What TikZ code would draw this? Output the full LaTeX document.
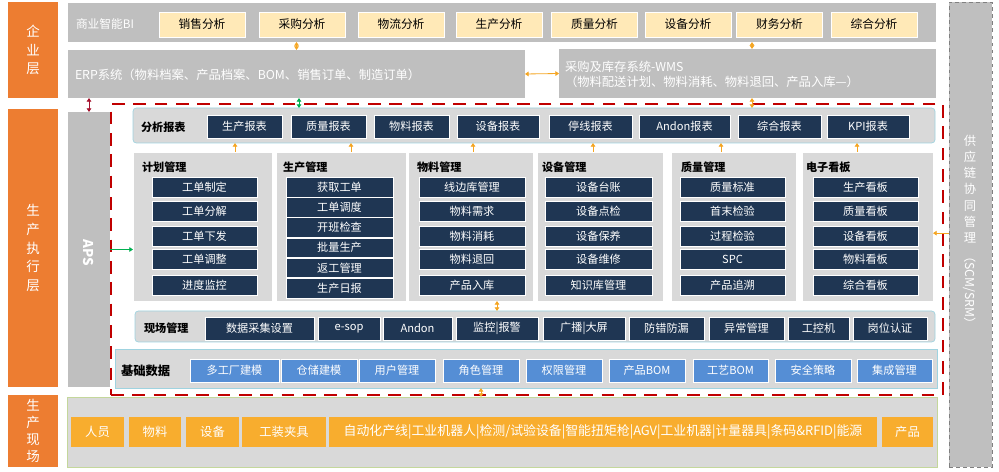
\documentclass[tikz,border=0pt]{standalone}
\usepackage{fontspec}
\setmainfont{Noto Sans CJK SC}
\usetikzlibrary{arrows.meta}
\definecolor{layor}{HTML}{ED7D31}
\definecolor{sysgray}{HTML}{BFBFBF}
\definecolor{pangray}{HTML}{D9D9D9}
\definecolor{navy}{HTML}{1F3653}
\definecolor{cream}{HTML}{FFE9B7}
\definecolor{basblue}{HTML}{558ED5}
\definecolor{fieldor}{HTML}{F8AD2E}
\definecolor{mesred}{HTML}{C00000}
\definecolor{edgeblue}{HTML}{9FD3E0}
\definecolor{edgegreen}{HTML}{C4D79B}
\definecolor{arrowor}{HTML}{F5A623}
\definecolor{arrowgr}{HTML}{00B050}
\definecolor{arrowrd}{HTML}{A5112C}
\begin{document}
\begin{tikzpicture}[x=0.3mm, y=-0.3mm,
	every node/.style={inner sep=0pt, outer sep=0pt},
	bw/.style={minimum width=#1*0.3mm},
	bh/.style={minimum height=#1*0.3mm},
	>={Triangle[length=1.1mm, width=1.4mm]},
	layer/.style={rectangle, fill=layor, text=white, align=center, font=\fontsize{11.5}{16}\selectfont},
	sys/.style={rectangle, fill=sysgray},
	pan/.style={rectangle, fill=pangray, draw=edgeblue, line width=0.6pt},
	grp/.style={rectangle, fill=pangray, draw=white, line width=0.8pt},
	ttl/.style={anchor=west, font=\fontsize{9.5}{11}\selectfont\bfseries},
	wtxt/.style={anchor=west, text=white, align=left, font=\fontsize{10.5}{12.5}\selectfont},
	bibox/.style={rectangle, fill=cream, draw=white, line width=0.8pt, bw=86, bh=25, font=\fontsize{10}{12}\selectfont},
	item/.style={rectangle, fill=navy, draw=white, line width=0.6pt, text=white, font=\fontsize{9.5}{11}\selectfont},
	repbox/.style={item, bh=23},
	modbox/.style={item, bh=20},
	sitebox/.style={item, bh=23},
	basis/.style={item, fill=basblue, bh=23},
	dev/.style={rectangle, fill=fieldor, text=white, bh=30, font=\fontsize{10.5}{12}\selectfont},
	oarr/.style={<->, draw=arrowor, line width=0.7pt},
	oup/.style={->, draw=arrowor, line width=0.7pt},
	garr/.style={<->, draw=arrowgr, line width=0.7pt},
	gone/.style={->, draw=arrowgr, line width=0.7pt},
	rarr/.style={<->, draw=arrowrd, line width=0.7pt}]
	\useasboundingbox[fill=white] (0,0) rectangle (999,472);
	% layers
	\node (ent) at (33,50) [layer, bw=50, bh=96] {企\\业\\层};
	\node (exe) at (33,248) [layer, bw=50, bh=278] {生\\产\\执\\行\\层};
	\node (shop) at (33,431) [layer, bw=50, bh=72, font=\fontsize{11.5}{14.7}\selectfont] {生\\产\\现\\场};
	% enterprise systems
	\node (bi) at (502,22.5) [sys, bw=868, bh=39] {};
	\node (bilbl) at (76,24) [wtxt, font=\fontsize{10}{12}\selectfont] {商业智能BI};
	\node (bi1) at (202,24.5) [bibox] {销售分析};
	\node (bi2) at (302,24.5) [bibox] {采购分析};
	\node (bi3) at (401,24.5) [bibox] {物流分析};
	\node (bi4) at (499,24.5) [bibox] {生产分析};
	\node (bi5) at (594.5,24.5) [bibox] {质量分析};
	\node (bi6) at (688,24.5) [bibox] {设备分析};
	\node (bi7) at (779.5,24.5) [bibox] {财务分析};
	\node (bi8) at (874,24.5) [bibox] {综合分析};
	\node (erp) at (296.5,74) [sys, bw=457, bh=48] {};
	\node (erptxt) at (75,75) [wtxt] {ERP系统（物料档案、产品档案、BOM、销售订单、制造订单）};
	\node (wms) at (747.5,73.5) [sys, bw=377, bh=49] {};
	\node (wmstxt) at (565,74.5) [wtxt] {采购及库存系统-WMS\\（物料配送计划、物料消耗、物料退回、产品入库---）};
	\node (aps) at (89,249.5) [sys, bw=42, bh=275] {};
	\node (apslbl) at (89,253) [rotate=-90, text=white, font=\fontsize{11.5}{13}\selectfont\bfseries] {APS};
	\node (scm) at (970.5,234.5) [sys, draw=gray, dashed, line width=0.4pt, bw=43, bh=465] {};
	\node (scmtxt) at (970,189) [text=white, align=center, font=\fontsize{10.5}{13.8}\selectfont] {供\\应\\链\\协\\同\\管\\理};
	\node (scmabbr) at (970,290) [rotate=-90, text=white, font=\fontsize{10.5}{12}\selectfont] {（SCM/SRM）};
	% MES frame
	\node (mes) at (527,249.5) [draw=mesred, line width=0.85mm, dash pattern=on 3.8mm off 2.6mm, bw=832, bh=291] {};
	% analysis reports
	\node (rep) at (534,125.5) [pan, rounded corners=1mm, bw=802, bh=35] {};
	\node (replbl) at (141,127) [ttl] {分析报表};
	\node (rep1) at (244.5,126.5) [repbox, bw=75] {生产报表};
	\node (rep2) at (328.5,126.5) [repbox, bw=75] {质量报表};
	\node (rep3) at (411.5,126.5) [repbox, bw=75] {物料报表};
	\node (rep4) at (498,126.5) [repbox, bw=82] {设备报表};
	\node (rep5) at (590.5,126.5) [repbox, bw=83] {停线报表};
	\node (rep6) at (684.5,126.5) [repbox, bw=91] {Andon报表};
	\node (rep7) at (779.5,126.5) [repbox, bw=83] {综合报表};
	\node (rep8) at (868,126.5) [repbox, bw=82] {KPI报表};
	% module groups
	\node (plan) at (202.5,226.5) [grp, bw=139, bh=149] {};
	\node (prod) at (341,226.5) [grp, bw=130, bh=149] {};
	\node (mat) at (470.5,226.5) [grp, bw=125, bh=149] {};
	\node (eqp) at (600,226.5) [grp, bw=126, bh=149] {};
	\node (qua) at (733.5,226.5) [grp, bw=125, bh=149] {};
	\node (board) at (867.5,226.5) [grp, bw=131, bh=149] {};
	\node (planlbl) at (142,167) [ttl] {计划管理};
	\node (prodlbl) at (283,167) [ttl] {生产管理};
	\node (matlbl) at (417,167) [ttl] {物料管理};
	\node (eqplbl) at (542,167) [ttl] {设备管理};
	\node (qualbl) at (681,167) [ttl] {质量管理};
	\node (boardlbl) at (806,167) [ttl] {电子看板};
	\node (plan1) at (204.5,187) [modbox, bw=105] {工单制定};
	\node (plan2) at (204.5,211.5) [modbox, bw=105] {工单分解};
	\node (plan3) at (204.5,236) [modbox, bw=105] {工单下发};
	\node (plan4) at (204.5,259.5) [modbox, bw=105] {工单调整};
	\node (plan5) at (204.5,285) [modbox, bw=105] {进度监控};
	\node (prod1) at (339.5,187.2) [modbox, bw=107, bh=19.6] {获取工单};
	\node (prod2) at (339.5,207.4) [modbox, bw=107, bh=19.6] {工单调度};
	\node (prod3) at (339.5,227.6) [modbox, bw=107, bh=19.6] {开班检查};
	\node (prod4) at (339.5,247.8) [modbox, bw=107, bh=19.6] {批量生产};
	\node (prod5) at (339.5,268) [modbox, bw=107, bh=19.6] {返工管理};
	\node (prod6) at (339.5,288.2) [modbox, bw=107, bh=19.6] {生产日报};
	\node (mat1) at (472,187) [modbox, bw=106] {线边库管理};
	\node (mat2) at (472,211.5) [modbox, bw=106] {物料需求};
	\node (mat3) at (472,236) [modbox, bw=106] {物料消耗};
	\node (mat4) at (472,259.5) [modbox, bw=106] {物料退回};
	\node (mat5) at (472,285) [modbox, bw=106] {产品入库};
	\node (eqp1) at (598.5,187) [modbox, bw=107] {设备台账};
	\node (eqp2) at (598.5,211.5) [modbox, bw=107] {设备点检};
	\node (eqp3) at (598.5,236) [modbox, bw=107] {设备保养};
	\node (eqp4) at (598.5,259.5) [modbox, bw=107] {设备维修};
	\node (eqp5) at (598.5,285) [modbox, bw=107] {知识库管理};
	\node (qua1) at (732.5,187) [modbox, bw=105] {质量标准};
	\node (qua2) at (732.5,211.5) [modbox, bw=105] {首末检验};
	\node (qua3) at (732.5,236) [modbox, bw=105] {过程检验};
	\node (qua4) at (732.5,259.5) [modbox, bw=105] {SPC};
	\node (qua5) at (732.5,285) [modbox, bw=105] {产品追溯};
	\node (board1) at (865.5,187) [modbox, bw=105] {生产看板};
	\node (board2) at (865.5,211.5) [modbox, bw=105] {质量看板};
	\node (board3) at (865.5,236) [modbox, bw=105] {设备看板};
	\node (board4) at (865.5,259.5) [modbox, bw=105] {物料看板};
	\node (board5) at (865.5,285) [modbox, bw=105] {综合看板};
	% site management
	\node (site) at (535,326.5) [pan, rounded corners=1mm, bw=800, bh=31] {};
	\node (sitelbl) at (144,328) [ttl] {现场管理};
	\node (site1) at (259.5,328.5) [sitebox, bw=109] {数据采集设置};
	\node (site2) at (349,328.5) [sitebox, bw=62] {e-sop};
	\node (site3) at (417.5,328.5) [sitebox, bw=69] {Andon};
	\node (site4) at (497,328.5) [sitebox, bw=82] {监控|报警};
	\node (site5) at (584,328.5) [sitebox, bw=82] {广播|大屏};
	\node (site6) at (666.5,328.5) [sitebox, bw=75] {防错防漏};
	\node (site7) at (746.5,328.5) [sitebox, bw=75] {异常管理};
	\node (site8) at (818.5,328.5) [sitebox, bw=61] {工控机};
	\node (site9) at (890,328.5) [sitebox, bw=74] {岗位认证};
	% base data
	\node (base) at (526,368.5) [pan, bw=822, bh=39] {};
	\node (baselbl) at (121,371) [ttl, font=\fontsize{10.5}{12}\selectfont\bfseries] {基础数据};
	\node (base1) at (234.5,370.5) [basis, bw=89] {多工厂建模};
	\node (base2) at (319,370.5) [basis, bw=76] {仓储建模};
	\node (base3) at (397,370.5) [basis, bw=76] {用户管理};
	\node (base4) at (481,370.5) [basis, bw=76] {角色管理};
	\node (base5) at (564,370.5) [basis, bw=76] {权限管理};
	\node (base6) at (647,370.5) [basis, bw=76] {产品BOM};
	\node (base7) at (730.5,370.5) [basis, bw=75] {工艺BOM};
	\node (base8) at (813,370.5) [basis, bw=76] {安全策略};
	\node (base9) at (894.5,370.5) [basis, bw=75] {集成管理};
	% shop floor
	\node (field) at (502,432) [rectangle, fill=pangray, draw=edgegreen, line width=0.6pt, bw=870, bh=70] {};
	\node (field1) at (97.5,432) [dev, bw=53] {人员};
	\node (field2) at (155,432) [dev, bw=52] {物料};
	\node (field3) at (212.5,432) [dev, bw=53] {设备};
	\node (field4) at (284,432) [dev, bw=84] {工装夹具};
	\node (field5) at (603,432) [dev, bw=548, font=\fontsize{11}{12}\selectfont] {自动化产线|工业机器人|检测/试验设备|智能扭矩枪|AGV|工业机器|计量器具|条码\&RFID|能源};
	\node (field6) at (907.5,432) [dev, bw=51] {产品};
	% connectors
	\draw[oarr] (erp.north) -- (erp.north |- bi.south);
	\draw[oarr] (erp.east) -- (wms.west);
	\draw[oarr] ([xshift=1.35mm]wms.north) -- ([xshift=1.35mm]wms.north |- bi.south);
	\draw[oarr] ([xshift=1.35mm]wms.south) -- ([xshift=1.35mm]wms.south |- rep.north);
	\draw[garr] ([xshift=0.75mm]erp.south) -- ([xshift=0.75mm]erp.south |- rep.north);
	\draw[rarr] (aps.north) -- (aps.north |- erp.south);
	\draw[gone] (aps.east) -- (aps.east -| plan.west);
	\draw[oup] ([xshift=9.75mm]plan.north) -- ([xshift=9.75mm]plan.north |- rep.south);
	\draw[oup] ([xshift=3mm]prod.north) -- ([xshift=3mm]prod.north |- rep.south);
	\draw[oup] ([xshift=0.75mm]mat.north) -- ([xshift=0.75mm]mat.north |- rep.south);
	\draw[oup] ([xshift=-2.1mm]eqp.north) -- ([xshift=-2.1mm]eqp.north |- rep.south);
	\draw[oup] ([xshift=-3.75mm]qua.north) -- ([xshift=-3.75mm]qua.north |- rep.south);
	\draw[oup] ([xshift=-3.15mm]board.north) -- ([xshift=-3.15mm]board.north |- rep.south);
	\draw[oup] ([yshift=-2mm]scm.west |- board.east) -- ([yshift=-2mm]board.east);
	\draw[oarr] (site4.north |- mat.south) -- (site4.north |- site.north);
	\draw[oarr] (base4.south |- base.south) -- (base4.south |- field.north);
\end{tikzpicture}
\end{document}
